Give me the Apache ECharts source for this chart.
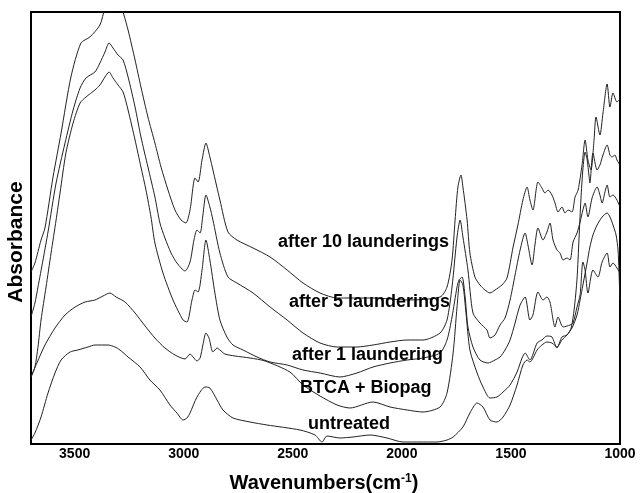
<!DOCTYPE html>
<html>
<head>
<meta charset="utf-8">
<script src="https://cdn.jsdelivr.net/npm/echarts@6/dist/echarts.min.js"></script>
<style>
html,body{margin:0;padding:0;background:#fff;}
#chart{width:640px;height:493px;}
</style>
</head>
<body>
<div id="chart"></div>
<script>
// ---- Data (wavenumber in cm-1, absorbance in arbitrary offset units) ----
const xTicks = [1000, 1500, 2000, 2500, 3000, 3500];
const seriesNames = ['after 10 launderings', 'after 5 launderings', 'after 1 laundering', 'BTCA + Biopag', 'untreated'];

const after10Wn = [3700,3682,3654,3636,3599,3562,3517,3471,3430,3384,3361,3338,3315,3292,3274,3255,3223,3196,3164,3132,3104,3072,3040,3012,2990,2971,2948,2934,2916,2898,2880,2866,2834,2797,2756,2682,2604,2526,2453,2375,2297,2238,2132,1976,1825,1793,1770,1756,1743,1729,1720,1701,1688,1665,1642,1619,1596,1573,1541,1518,1490,1468,1445,1426,1413,1399,1376,1358,1344,1330,1312,1298,1284,1266,1252,1238,1220,1206,1192,1174,1160,1147,1133,1119,1110,1092,1078,1059,1046,1032,1014,1000];
const after10Abs = [172,181,204,216,267,311,367,401,407,419,436,446,448,442,429,414,384,357,327,301,277,254,234,224,221,234,266,262,284,301,287,274,244,212,204,196,187,174,161,151,146,146,146,144,147,157,184,224,257,269,257,224,191,167,159,154,151,154,159,166,197,219,244,257,244,234,262,256,251,254,249,241,232,237,231,234,232,247,254,279,304,284,274,304,327,309,331,360,337,351,342,345];

const after5Wn = [3700,3682,3668,3645,3622,3585,3544,3507,3475,3448,3407,3384,3361,3342,3324,3301,3278,3255,3223,3196,3164,3132,3109,3086,3058,3031,2994,2971,2953,2939,2925,2912,2898,2880,2866,2834,2797,2756,2682,2604,2526,2453,2375,2297,2206,2132,2054,1976,1903,1825,1793,1770,1747,1733,1720,1697,1674,1642,1610,1596,1573,1550,1527,1504,1481,1458,1435,1422,1403,1390,1376,1353,1335,1321,1307,1289,1275,1261,1243,1229,1215,1197,1183,1170,1160,1147,1128,1105,1092,1082,1069,1059,1046,1032,1014,1000];
const after5Abs = [127,141,157,184,212,261,301,334,356,366,372,381,392,401,396,389,384,367,337,307,277,247,221,206,191,181,173,182,204,214,211,229,249,237,224,191,167,161,151,137,124,111,101,97,97,99,102,104,104,111,124,157,207,224,207,174,131,121,114,106,109,119,126,144,169,194,211,199,179,199,216,204,212,221,204,194,191,184,186,184,202,211,222,234,241,227,246,257,249,241,252,259,247,249,244,237];

const after1Wn = [3700,3682,3668,3654,3631,3608,3585,3567,3540,3507,3475,3448,3407,3384,3361,3342,3324,3301,3278,3255,3223,3196,3173,3150,3132,3095,3049,3003,2985,2962,2948,2934,2916,2898,2880,2857,2834,2802,2774,2728,2664,2604,2526,2453,2375,2284,2206,2132,2054,1976,1903,1825,1793,1770,1747,1738,1724,1710,1697,1674,1642,1605,1573,1550,1527,1504,1481,1458,1435,1413,1399,1376,1353,1335,1321,1298,1284,1261,1229,1215,1197,1183,1170,1160,1147,1124,1101,1082,1059,1046,1032,1014,1000];
const after1Abs = [67,77,97,124,157,191,224,251,291,321,341,347,354,359,367,372,366,359,352,334,304,277,254,227,201,171,144,124,122,144,154,152,174,204,184,151,124,107,99,94,87,82,79,74,71,67,71,77,81,84,86,91,104,127,157,164,167,147,117,97,84,81,84,87,94,104,121,139,147,124,129,152,144,147,142,117,127,117,119,121,137,149,182,174,151,174,167,182,191,177,181,176,171];

const btcaWn = [3700,3673,3636,3590,3544,3498,3452,3407,3370,3338,3310,3269,3223,3177,3132,3086,3040,2994,2971,2957,2939,2925,2912,2898,2884,2866,2847,2834,2811,2765,2696,2627,2513,2453,2375,2297,2238,2132,2054,1976,1903,1825,1793,1765,1747,1733,1720,1706,1688,1655,1628,1596,1564,1536,1504,1472,1449,1435,1413,1380,1358,1335,1312,1289,1266,1243,1224,1210,1197,1188,1179,1170,1160,1151,1142,1138,1124,1105,1092,1078,1059,1046,1037,1023,1014,1000];
const btcaAbs = [67,81,99,116,129,137,142,144,148,151,147,142,131,118,106,96,89,85,90,87,83,86,99,111,106,92,96,94,90,88,86,83,72,59,48,39,36,42,37,34,32,37,51,91,137,164,159,131,94,71,57,46,47,52,59,72,86,91,84,101,104,108,107,96,107,109,116,135,165,205,245,275,292,285,268,261,291,274,279,289,299,289,287,289,284,279];

const untreatedWn = [3700,3682,3654,3622,3590,3562,3521,3485,3439,3407,3347,3315,3292,3255,3200,3155,3109,3063,3031,3003,2985,2971,2939,2902,2880,2847,2820,2774,2696,2618,2467,2398,2366,2343,2284,2224,2146,2068,1995,1917,1839,1793,1765,1720,1688,1655,1628,1596,1564,1536,1504,1472,1445,1426,1413,1380,1358,1335,1312,1289,1266,1243,1220,1197,1183,1170,1151,1138,1124,1105,1082,1059,1046,1032,1018,1009,1005,1000];
const untreatedAbs = [4,11,27,51,71,84,92,94,97,99,99,97,94,87,77,64,54,39,31,24,26,31,47,57,56,44,34,26,22,19,14,9,2,8,6,7,9,6,2,2,2,4,7,17,31,41,37,24,22,27,39,59,79,84,82,94,99,102,101,97,104,109,116,129,144,159,181,197,209,219,227,231,227,219,209,194,174,144];

// ---- Build ----
function zip(xs, ys) { return xs.map((x, i) => [x, ys[i]]); }
const curves = [
  zip(after10Wn, after10Abs),
  zip(after5Wn, after5Abs),
  zip(after1Wn, after1Abs),
  zip(btcaWn, btcaAbs),
  zip(untreatedWn, untreatedAbs)
];

const FONT = '"Liberation Sans", Arial, Helvetica, sans-serif';
const labelPos = [[278, 242], [289, 302], [292, 355], [300, 388], [308, 424]];

const chart = echarts.init(document.getElementById('chart'), null, { renderer: 'canvas' });
chart.setOption({
  animation: false,
  backgroundColor: '#fff',
  grid: { left: 31, right: 20, top: 12, bottom: 49, show: true, borderColor: '#000', borderWidth: 2, backgroundColor: 'transparent' },
  xAxis: {
    type: 'value', min: 1000, max: 3700, interval: 500, inverse: true,
    axisLine: { show: false }, axisTick: { show: false }, splitLine: { show: false },
    axisLabel: {
      fontSize: 14, fontWeight: 'bold', fontFamily: FONT, color: '#000', margin: 3,
      formatter: v => (xTicks.indexOf(v) >= 0 ? String(v) : '')
    }
  },
  yAxis: {
    type: 'value', min: 0, max: 432,
    axisLine: { show: false }, axisTick: { show: false }, splitLine: { show: false }, axisLabel: { show: false }
  },
  series: curves.map((d, i) => ({
    name: seriesNames[i], type: 'line', data: d, showSymbol: false, symbol: 'none',
    smooth: 0.25, clip: true, silent: true,
    lineStyle: { color: '#222', width: 1 }
  })),
  graphic: [
    ...seriesNames.map((t, i) => ({
      type: 'text', x: labelPos[i][0], y: labelPos[i][1], z: 100,
      style: { text: t, fontSize: 18, fontWeight: 'bold', fontFamily: FONT, fill: '#000', align: 'left', verticalAlign: 'middle' }
    })),
    {
      type: 'text', x: 16, y: 242, rotation: Math.PI / 2, z: 100,
      style: { text: 'Absorbance', fontSize: 21, fontWeight: 'bold', fontFamily: FONT, fill: '#000', align: 'center', verticalAlign: 'middle' }
    },
    {
      type: 'text', x: 324, y: 483, z: 100,
      style: {
        text: 'Wavenumbers(cm{sup|-1})', fontSize: 20, fontWeight: 'bold', fontFamily: FONT, fill: '#000',
        align: 'center', verticalAlign: 'middle',
        rich: { sup: { fontSize: 12, fontWeight: 'bold', fontFamily: FONT, fill: '#000', verticalAlign: 'top', lineHeight: 12 } }
      }
    }
  ]
});
</script>
</body>
</html>
